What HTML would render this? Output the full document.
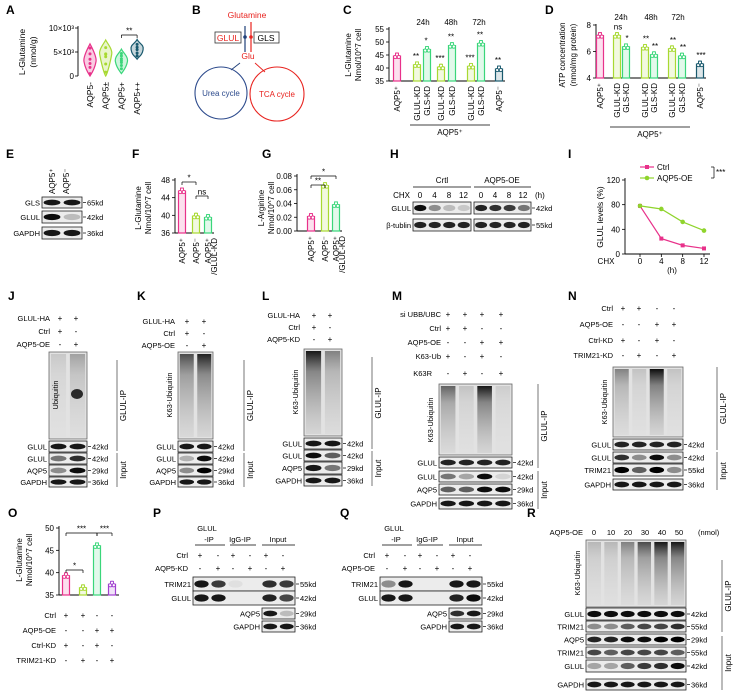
<!DOCTYPE html>
<html><head><meta charset="utf-8">
<style>
html,body{margin:0;padding:0;background:#fff;}
svg{display:block;font-family:"Liberation Sans",Arial,sans-serif;}
</style></head>
<body>
<svg id="fig" width="735" height="694" viewBox="0 0 735 694" xmlns="http://www.w3.org/2000/svg">
<defs>
<linearGradient id="smearG" x1="0" y1="0" x2="0" y2="1">
<stop offset="0" stop-color="#000" stop-opacity="0.95"/>
<stop offset="0.25" stop-color="#333" stop-opacity="0.55"/>
<stop offset="1" stop-color="#888" stop-opacity="0.15"/>
</linearGradient>
</defs>
</svg>
<script>
// ---------- chart data ----------
const aCats=['AQP5-','AQP5±','AQP5+','AQP5++'];
const aMin=[0,0,500,3500];
const aMax=[6700,7500,5600,7600];
const aPeak=[3000,4500,3000,5500];
const aPts=[[500,1800,2600,3500,4600,5800],[800,2500,4000,4500,4600,5900],[1500,2200,2800,3200,3600,4200,4700],[4200,4800,5500,6000,6600]];
const aTicks=[0,5000,10000];
const aTickLabels=['0','5×10³','10×10³'];
const cCats=['AQP5⁺','GLUL-KD','GLS-KD','GLUL-KD','GLS-KD','GLUL-KD','GLS-KD','AQP5⁻'];
const cVals=[44.6,41.2,47.1,40.3,48.6,40.6,49.4,39.6];
const cSig=['','**','*','***','**','***','**','**'];
const cTicks=[35,40,45,50,55];
const dCats=['AQP5⁺','GLUL-KD','GLS-KD','GLUL-KD','GLS-KD','GLUL-KD','GLS-KD','AQP5⁻'];
const dVals=[7.2,7.2,6.35,6.3,5.75,6.2,5.65,5.05];
const dSig=['','ns','*','**','**','**','**','***'];
const dTicks=[4,6,8];
const fCats=['AQP5⁺','AQP5⁻','AQP5⁺'];
const fVals=[45.5,39.8,39.5];
const fTicks=[36,40,44,48];
const gCats=['AQP5⁺','AQP5⁻','AQP5⁺'];
const gVals=[0.021,0.066,0.038];
const gTicks=[0,0.02,0.04,0.06,0.08];
const gTickLabels=['0.00','0.02','0.04','0.06','0.08'];
const iTime=[0,4,8,12];
const iCtrl=[78,25,14,9];
const iOE=[78,73,52,38];
const iTicks=[0,40,80,120];
const oVals=[39.3,36.6,46,37.4];
const oTicks=[35,40,45,50];

// ---------- helpers ----------
const NS='http://www.w3.org/2000/svg';
const svg=document.getElementById('fig');
function mk(tag,attrs,name,inter){
  const el=document.createElementNS(NS,tag);
  for(const k in attrs) el.setAttribute(k,attrs[k]);
  
  
  svg.appendChild(el);
  return el;
}
function T(x,y,s,o){
  o=o||{};
  const at={x:x,y:y,'font-size':o.fs||8,'text-anchor':o.a||'start',fill:o.c||'#000'};
  if(o.b) at['font-weight']='bold';
  if(o.r) at.transform='rotate('+o.r+' '+x+' '+y+')';
  const el=mk('text',at,o.n||'label',false);
  el.textContent=s;
  return el;
}
function L(x1,y1,x2,y2,c,w,n){
  return mk('line',{x1:x1,y1:y1,x2:x2,y2:y2,stroke:c||'#000','stroke-width':w||0.8},n||'line',false);
}
function R(x,y,w,h,f,s,n){
  return mk('rect',{x:x,y:y,width:w,height:h,fill:f||'none',stroke:s||'none','stroke-width':0.8},n||'rect',false);
}
function letter(x,y,s){T(x,y,s,{fs:12,b:true,n:'panel-label-'+s.toLowerCase()});}
function blot(x,y,w,h,ints,name,kd,lab){
  R(x,y,w,h,'#ececec','#222',name+'-blot');
  const k=ints.length;
  for(let i=0;i<k;i++){
    mk('ellipse',{cx:x+w*(i+0.5)/k,cy:y+h/2,rx:w/k*0.42,ry:h*0.26,fill:'#000','fill-opacity':ints[i]},name+'-band',false);
  }
  if(lab) T(x-2,y+h/2+3,lab,{a:'end',fs:7.5,n:name+'-label'});
  if(kd){L(x+w+1,y+h/2,x+w+4,y+h/2,'#000',0.7,'kd-tick');T(x+w+5,y+h/2+3,kd,{fs:7.5,n:name+'-kd'});}
}
function smear(x,y,w,h,ints,name){
  R(x,y,w,h,'#e2e2e2','#666',name+'-blot');
  const k=ints.length;
  for(let i=0;i<k;i++){
    mk('rect',{x:x+w*i/k+w/k*0.1,y:y+2,width:w/k*0.8,height:h-4,fill:'url(#smearG)','fill-opacity':ints[i]},name+'-lane',false);
  }
}
function bar(cx,yTop,yBase,w,col,name){
  mk('rect',{x:cx-w/2,y:yTop,width:w,height:yBase-yTop,fill:col,'fill-opacity':0.15,stroke:col,'stroke-width':1.2},name,false);
  L(cx,yTop-3,cx,yTop+3,col,0.8,name+'-error');
  L(cx-2,yTop-3,cx+2,yTop-3,col,0.8,name+'-error-cap');
  for(let j=-1;j<=1;j++) mk('circle',{cx:cx+j*1.8,cy:yTop+(j===0?-1.5:1),r:1.6,fill:'#fff',stroke:col,'stroke-width':0.9},name+'-point',false);
}
function bracket(x1,x2,y,s){
  L(x1,y+3,x1,y,'#000',0.7,'sig-bracket');L(x1,y,x2,y,'#000',0.7,'sig-bracket');L(x2,y,x2,y+3,'#000',0.7,'sig-bracket');
  T((x1+x2)/2,y-1.5,s,{a:'middle',fs:8,n:'significance'});
}
function signs(xs,y,arr,name){for(let i=0;i<xs.length;i++) T(xs[i],y,arr[i],{a:'middle',fs:8,n:name+'-sign'});}
function sideLine(x,y1,y2,txt){L(x,y1,x,y2,'#555',0.8,'group-line');T(x+9,(y1+y2)/2,txt,{a:'middle',fs:8,r:-90,n:'group-label'});}

// ---------- A ----------
letter(6,14,'A');
const yA=v=>76-v/10000*48;
const xA=i=>90+i*15.7;
const aCol=['#e8318a','#a8d932','#3ad67a','#1a5a6e'];
L(78,26,78,76,'#000',0.9,'a-y-axis');
aTicks.forEach((t,i)=>{L(75,yA(t),78,yA(t),'#000',0.8,'a-tick');T(74,yA(t)+3,aTickLabels[i],{a:'end',fs:8,n:'a-tick-label'});});
T(25,52,'L-Glutamine',{a:'middle',r:-90,fs:8.5,n:'a-y-title'});
T(36,52,'(nmol/g)',{a:'middle',r:-90,fs:8.5,n:'a-y-title'});
aCats.forEach((c,i)=>{
  const cx=xA(i),y0=yA(aMin[i]),y1=yA(aMax[i]),yp=yA(aPeak[i]);
  const d='M'+cx+' '+y1+' C'+(cx+2)+' '+(y1+4)+' '+(cx+7)+' '+(yp-5)+' '+(cx+6)+' '+yp+' C'+(cx+5)+' '+(yp+6)+' '+(cx+2)+' '+(y0-3)+' '+cx+' '+y0+' C'+(cx-2)+' '+(y0-3)+' '+(cx-5)+' '+(yp+6)+' '+(cx-6)+' '+yp+' C'+(cx-7)+' '+(yp-5)+' '+(cx-2)+' '+(y1+4)+' '+cx+' '+y1+'Z';
  mk('path',{d:d,fill:aCol[i],'fill-opacity':0.25,stroke:aCol[i],'stroke-width':1.2},'violin-'+i,false);
  aPts[i].forEach(v=>mk('circle',{cx:cx,cy:yA(v),r:1.5,fill:aCol[i]},'violin-point',false));
  T(cx+3,82,c,{a:'end',r:-90,fs:8.5,n:'a-x-label'});
});
bracket(xA(2),xA(3),35,'**');

// ---------- B ----------
letter(192,14,'B');
T(247,18,'Glutamine',{a:'middle',fs:8.5,c:'#e8231f',n:'glutamine-label'});
R(215,32,26,11,'none','#333','glul-box');T(228,41,'GLUL',{a:'middle',fs:8.5,c:'#e8231f',n:'glul-text'});
R(254,32,25,11,'none','#333','gls-box');T(266,41,'GLS',{a:'middle',fs:8.5,n:'gls-text'});
L(245,26,245,52,'#1f3f78',1.2,'glul-arrow');L(251,22,251,52,'#e8231f',1.2,'gls-arrow');
mk('circle',{cx:245,cy:37,r:1.8,fill:'#1f3f78'},'glul-dot',false);
mk('circle',{cx:251,cy:37,r:1.8,fill:'#e8231f'},'gls-dot',false);
T(248,59,'Glu',{a:'middle',fs:8.5,c:'#e8231f',n:'glu-label'});
L(240,63,231,70,'#1f3f78',0.9,'to-urea');L(255,63,265,72,'#e8231f',0.9,'to-tca');
mk('circle',{cx:221,cy:93,r:26,fill:'none',stroke:'#2c4a8c','stroke-width':1.1},'urea-cycle',false);
mk('circle',{cx:277,cy:94,r:27,fill:'none',stroke:'#e8231f','stroke-width':1.1},'tca-cycle',false);
T(221,96,'Urea cycle',{a:'middle',fs:8,c:'#2c4a8c',n:'urea-label'});
T(277,97,'TCA cycle',{a:'middle',fs:8,c:'#e8231f',n:'tca-label'});

// ---------- C ----------
letter(343,14,'C');
const yC=v=>81-(v-35)/20*52;
const cX=[397,417,427,441,452,471,481,499];
const cCol=['#e8318a','#a8d932','#3ad67a','#a8d932','#3ad67a','#a8d932','#3ad67a','#1a5a6e'];
L(389,27,389,81,'#000',0.9,'c-y-axis');L(389,81,505,81,'#000',0.9,'c-x-axis');
cTicks.forEach(t=>{L(386,yC(t),389,yC(t),'#000',0.8,'c-tick');T(384,yC(t)+3,String(t),{a:'end',fs:8,n:'c-tick-label'});});
T(351,55,'L-Glutamine',{a:'middle',r:-90,fs:8,n:'c-y-title'});
T(361,55,'Nmol/10^7 cell',{a:'middle',r:-90,fs:8,n:'c-y-title'});
cVals.forEach((v,i)=>{bar(cX[i],yC(v),81,7,cCol[i],'c-bar-'+i);T(cX[i]-1,yC(v)-6,cSig[i],{a:'middle',fs:8,n:'c-sig'});T(cX[i]+3,86,cCats[i],{a:'end',r:-90,fs:8,n:'c-x-label'});});
T(423,25,'24h',{a:'middle',fs:8,n:'c-time'});T(451,25,'48h',{a:'middle',fs:8,n:'c-time'});T(479,25,'72h',{a:'middle',fs:8,n:'c-time'});
L(410,125,490,125,'#000',0.8,'c-group-line');T(450,135,'AQP5⁺',{a:'middle',fs:8,n:'c-group-label'});

// ---------- D ----------
letter(545,14,'D');
const yD=v=>78-(v-4)/4*53;
const dX=[600,617,626,645,654,672,682,700];
L(596,24,596,78,'#000',0.9,'d-y-axis');L(596,78,706,78,'#000',0.9,'d-x-axis');
dTicks.forEach(t=>{L(593,yD(t),596,yD(t),'#000',0.8,'d-tick');T(591,yD(t)+3,String(t),{a:'end',fs:8,n:'d-tick-label'});});
T(565,55,'ATP concentration',{a:'middle',r:-90,fs:8,n:'d-y-title'});
T(576,55,'(nmol/mg protein)',{a:'middle',r:-90,fs:8,n:'d-y-title'});
dVals.forEach((v,i)=>{bar(dX[i],yD(v),78,7,cCol[i],'d-bar-'+i);T(dX[i]+1,yD(v)-6,dSig[i],{a:'middle',fs:8,n:'d-sig'});T(dX[i]+3,83,dCats[i],{a:'end',r:-90,fs:8,n:'d-x-label'});});
T(621,20,'24h',{a:'middle',fs:8,n:'d-time'});T(651,20,'48h',{a:'middle',fs:8,n:'d-time'});T(678,20,'72h',{a:'middle',fs:8,n:'d-time'});
L(610,127,690,127,'#000',0.8,'d-group-line');T(650,137,'AQP5⁺',{a:'middle',fs:8,n:'d-group-label'});

// ---------- E ----------
letter(6,158,'E');
T(55,194,'AQP5⁺',{r:-90,fs:8,n:'e-col-label'});T(69,194,'AQP5⁻',{r:-90,fs:8,n:'e-col-label'});
blot(42,197,40,11,[0.9,0.9],'e-gls','65kd','GLS');
blot(42,211,40,12,[0.95,0.2],'e-glul','42kd','GLUL');
blot(42,227,40,12,[0.9,0.9],'e-gapdh','36kd','GAPDH');

// ---------- F ----------
letter(132,158,'F');
const yF=v=>233-(v-36)/12*53;
const fX=[182,196,208];const fCol=['#e8318a','#a8d932','#3ad67a'];
L(175,178,175,233,'#000',0.9,'f-y-axis');L(175,233,214,233,'#000',0.9,'f-x-axis');
fTicks.forEach(t=>{L(172,yF(t),175,yF(t),'#000',0.8,'f-tick');T(170,yF(t)+3,String(t),{a:'end',fs:8,n:'f-tick-label'});});
T(141,208,'L-Glutamine',{a:'middle',r:-90,fs:8,n:'f-y-title'});T(151,208,'Nmol/10^7 cell',{a:'middle',r:-90,fs:8,n:'f-y-title'});
fVals.forEach((v,i)=>{bar(fX[i],yF(v),233,7,fCol[i],'f-bar-'+i);T(fX[i]+3,238,fCats[i],{a:'end',r:-90,fs:8,n:'f-x-label'});});
T(217,238,'/GLUL-KD',{a:'end',r:-90,fs:8,n:'f-x-label'});
bracket(182,196,182,'*');bracket(196,208,196,'ns');

// ---------- G ----------
letter(262,158,'G');
const yG=v=>231-v/0.08*55;
const gX=[311,325,336];
L(297,174,297,231,'#000',0.9,'g-y-axis');L(297,231,342,231,'#000',0.9,'g-x-axis');
gTicks.forEach((t,i)=>{L(294,yG(t),297,yG(t),'#000',0.8,'g-tick');T(292,yG(t)+3,gTickLabels[i],{a:'end',fs:8,n:'g-tick-label'});});
T(264,208,'L-Arginine',{a:'middle',r:-90,fs:8,n:'g-y-title'});T(274,208,'Nmol/10^7 cell',{a:'middle',r:-90,fs:8,n:'g-y-title'});
gVals.forEach((v,i)=>{bar(gX[i],yG(v),231,7,fCol[i],'g-bar-'+i);T(gX[i]+3,236,gCats[i],{a:'end',r:-90,fs:8,n:'g-x-label'});});
T(345,236,'/GLUL-KD',{a:'end',r:-90,fs:8,n:'g-x-label'});
bracket(311,325,185,'**');bracket(311,336,176,'*');

// ---------- H ----------
letter(390,158,'H');
T(442,183,'Crtl',{a:'middle',fs:8,n:'h-ctrl-label'});L(413,187,471,187,'#000',0.8,'h-line');
T(502,183,'AQP5-OE',{a:'middle',fs:8,n:'h-oe-label'});L(474,187,531,187,'#000',0.8,'h-line');
T(410,198,'CHX',{a:'end',fs:8,n:'h-chx'});
[0,4,8,12].forEach((t,i)=>{T(420+i*14.5,198,String(t),{a:'middle',fs:8,n:'h-time'});T(481+i*14,198,String(t),{a:'middle',fs:8,n:'h-time'});});
T(535,198,'(h)',{fs:8,n:'h-unit'});
blot(413,202,58,12,[0.95,0.4,0.2,0.15],'h-glul-ctrl',null,'GLUL');
blot(474,202,57,12,[0.85,0.8,0.75,0.5],'h-glul-oe','42kd',null);
blot(413,219,58,12,[0.85,0.85,0.85,0.85],'h-tub-ctrl',null,'β-tublin');
blot(474,219,57,12,[0.85,0.85,0.85,0.85],'h-tub-oe','55kd',null);

// ---------- I ----------
letter(568,158,'I');
const yI=v=>254-v/120*74;
const xI=t=>640+t/12*64;
L(625,178,625,254,'#000',0.9,'i-y-axis');L(625,254,710,254,'#000',0.9,'i-x-axis');
iTicks.forEach(t=>{L(622,yI(t),625,yI(t),'#000',0.8,'i-tick');T(620,yI(t)+3,String(t),{a:'end',fs:8,n:'i-tick-label'});});
iTime.forEach(t=>{L(xI(t),254,xI(t),257,'#000',0.8,'i-xtick');T(xI(t),264,String(t),{a:'middle',fs:8,n:'i-xtick-label'});});
T(606,264,'CHX',{a:'middle',fs:8,n:'i-chx'});T(672,273,'(h)',{a:'middle',fs:8,n:'i-unit'});
T(603,217,'GLUL levels (%)',{a:'middle',r:-90,fs:8.5,n:'i-y-title'});
mk('polyline',{points:iTime.map((t,i)=>xI(t)+','+yI(iCtrl[i])).join(' '),fill:'none',stroke:'#e8318a','stroke-width':1.2},'i-ctrl-line',false);
mk('polyline',{points:iTime.map((t,i)=>xI(t)+','+yI(iOE[i])).join(' '),fill:'none',stroke:'#8fd42c','stroke-width':1.2},'i-oe-line',false);
iTime.forEach((t,i)=>{mk('rect',{x:xI(t)-2,y:yI(iCtrl[i])-2,width:4,height:4,fill:'#e8318a'},'i-ctrl-point',false);mk('circle',{cx:xI(t),cy:yI(iOE[i]),r:2.3,fill:'#8fd42c'},'i-oe-point',false);});
L(640,167,654,167,'#e8318a',1.2,'legend-ctrl-line');mk('rect',{x:645,y:165,width:4,height:4,fill:'#e8318a'},'legend-ctrl-marker',false);T(657,170,'Ctrl',{fs:8,n:'legend-ctrl'});
L(640,178,654,178,'#8fd42c',1.2,'legend-oe-line');mk('circle',{cx:647,cy:178,r:2.3,fill:'#8fd42c'},'legend-oe-marker',false);T(657,181,'AQP5-OE',{fs:8,n:'legend-oe'});
L(711,167,714,167,'#000',0.7,'i-sig');L(714,167,714,178,'#000',0.7,'i-sig');L(711,178,714,178,'#000',0.7,'i-sig');T(716,175,'***',{fs:8,n:'i-sig-label'});

// ---------- J ----------
letter(8,300,'J');
T(50,321,'GLUL-HA',{a:'end',fs:7.5,n:'j-row'});T(50,334,'Ctrl',{a:'end',fs:7.5,n:'j-row'});T(50,347,'AQP5-OE',{a:'end',fs:7.5,n:'j-row'});
signs([60,76],321,['+','+'],'j');signs([60,76],334,['+','-'],'j');signs([60,76],347,['-','+'],'j');
smear(49,352,38,87,[0.12,0.3],'j-ubiquitin');
mk('ellipse',{cx:77,cy:394,rx:6,ry:5,fill:'#000','fill-opacity':0.8},'j-ub-spot',false);
T(58,395,'Ubiquitin',{a:'middle',r:-90,fs:7.5,n:'j-ub-label'});
blot(49,441,38,11,[0.9,0.9],'j-glul-ip','42kd','GLUL');
blot(49,453,38,11,[0.5,0.8],'j-glul-in','42kd','GLUL');
blot(49,465,38,11,[0.4,0.95],'j-aqp5','29kd','AQP5');
blot(49,477,38,10,[0.9,0.9],'j-gapdh','36kd','GAPDH');
sideLine(117,360,451,'GLUL-IP');sideLine(117,453,487,'Input');

// ---------- K ----------
letter(137,300,'K');
T(175,324,'GLUL-HA',{a:'end',fs:7.5,n:'k-row'});T(175,336,'Ctrl',{a:'end',fs:7.5,n:'k-row'});T(175,348,'AQP5-OE',{a:'end',fs:7.5,n:'k-row'});
signs([187,204],324,['+','+'],'k');signs([187,204],336,['+','-'],'k');signs([187,204],348,['-','+'],'k');
smear(178,352,35,87,[0.7,0.9],'k-k63');
T(172,395,'K63-Ubiquitin',{a:'middle',r:-90,fs:7.5,n:'k-ub-label'});
blot(178,441,35,11,[0.9,0.9],'k-glul-ip','42kd','GLUL');
blot(178,453,35,11,[0.25,0.95],'k-glul-in','42kd','GLUL');
blot(178,465,35,11,[0.4,1],'k-aqp5','29kd','AQP5');
blot(178,477,35,10,[0.9,0.9],'k-gapdh','36kd','GAPDH');
sideLine(244,360,451,'GLUL-IP');sideLine(244,453,487,'Input');

// ---------- L ----------
letter(262,300,'L');
T(300,318,'GLUL-HA',{a:'end',fs:7.5,n:'l-row'});T(300,330,'Ctrl',{a:'end',fs:7.5,n:'l-row'});T(300,342,'AQP5-KD',{a:'end',fs:7.5,n:'l-row'});
signs([314,330],318,['+','+'],'l');signs([314,330],330,['+','-'],'l');signs([314,330],342,['-','+'],'l');
smear(304,349,38,87,[0.95,0.45],'l-k63');
T(298,392,'K63-Ubiquitin',{a:'middle',r:-90,fs:7.5,n:'l-ub-label'});
blot(304,438,38,11,[0.9,0.9],'l-glul-ip','42kd','GLUL');
blot(304,450,38,11,[0.95,0.6],'l-glul-in','42kd','GLUL');
blot(304,462,38,12,[0.9,0.5],'l-aqp5','29kd','AQP5');
blot(304,475,38,11,[0.9,0.9],'l-gapdh','36kd','GAPDH');
sideLine(372,357,449,'GLUL-IP');sideLine(372,451,486,'Input');

// ---------- M ----------
letter(392,300,'M');
T(441,317,'si UBB/UBC',{a:'end',fs:7.5,n:'m-row'});T(441,331,'Ctrl',{a:'end',fs:7.5,n:'m-row'});T(441,345,'AQP5-OE',{a:'end',fs:7.5,n:'m-row'});T(441,359,'K63-Ub',{a:'end',fs:7.5,n:'m-row'});T(432,376,'K63R',{a:'end',fs:7.5,n:'m-row'});
signs([448,465,482,501],317,['+','+','+','+'],'m');signs([448,465,482,501],331,['+','+','-','-'],'m');signs([448,465,482,501],345,['-','-','+','+'],'m');signs([448,465,482,501],359,['+','-','+','-'],'m');signs([448,465,482,501],376,['-','+','-','+'],'m');
smear(439,384,73,71,[0.6,0.15,0.95,0.1],'m-k63');
T(433,420,'K63-Ubiquitin',{a:'middle',r:-90,fs:7.5,n:'m-ub-label'});
blot(439,457,73,11,[0.85,0.85,0.85,0.85],'m-glul-ip','42kd','GLUL');
blot(439,471,73,11,[0.5,0.3,0.95,0.1],'m-glul-in','42kd','GLUL');
blot(439,484,73,11,[0.6,0.6,0.95,0.95],'m-aqp5','29kd','AQP5');
blot(439,498,73,11,[0.9,0.9,0.9,0.9],'m-gapdh','36kd','GAPDH');
sideLine(538,384,468,'GLUL-IP');sideLine(538,471,509,'Input');

// ---------- N ----------
letter(568,300,'N');
T(613,311,'Ctrl',{a:'end',fs:7.5,n:'n-row'});T(613,327,'AQP5-OE',{a:'end',fs:7.5,n:'n-row'});T(613,343,'Ctrl-KD',{a:'end',fs:7.5,n:'n-row'});T(613,358,'TRIM21-KD',{a:'end',fs:7.5,n:'n-row'});
signs([623,639,657,674],311,['+','+','-','-'],'n');signs([623,639,657,674],327,['-','-','+','+'],'n');signs([623,639,657,674],343,['+','-','+','-'],'n');signs([623,639,657,674],358,['-','+','-','+'],'n');
smear(613,367,70,70,[0.45,0.15,1,0.15],'n-k63');
T(607,402,'K63-Ubiquitin',{a:'middle',r:-90,fs:7.5,n:'n-ub-label'});
blot(613,439,70,11,[0.85,0.85,0.85,0.85],'n-glul-ip','42kd','GLUL');
blot(613,452,70,11,[0.8,0.4,0.95,0.4],'n-glul-in','42kd','GLUL');
blot(613,464,70,12,[1,0.6,1,0.4],'n-trim21','55kd','TRIM21');
blot(613,479,70,11,[0.9,0.9,0.9,0.9],'n-gapdh','36kd','GAPDH');
sideLine(717,367,450,'GLUL-IP');sideLine(717,452,490,'Input');

// ---------- O ----------
letter(8,517,'O');
const yO=v=>595-(v-35)/15*67;
const oX=[66,83,97,112];const oCol=['#e8318a','#a8d932','#3ad67a','#a040d0'];
L(59,526,59,595,'#000',0.9,'o-y-axis');L(59,595,119,595,'#000',0.9,'o-x-axis');
oTicks.forEach(t=>{L(56,yO(t),59,yO(t),'#000',0.8,'o-tick');T(54,yO(t)+3,String(t),{a:'end',fs:8,n:'o-tick-label'});});
T(22,560,'L-Glutamine',{a:'middle',r:-90,fs:8,n:'o-y-title'});T(32,560,'Nmol/10^7 cell',{a:'middle',r:-90,fs:8,n:'o-y-title'});
oVals.forEach((v,i)=>bar(oX[i],yO(v),595,7,oCol[i],'o-bar-'+i));
bracket(66,83,570,'*');bracket(66,97,533,'***');bracket(97,112,533,'***');
T(56,618,'Ctrl',{a:'end',fs:7.5,n:'o-row'});T(56,633,'AQP5-OE',{a:'end',fs:7.5,n:'o-row'});T(56,648,'Ctrl-KD',{a:'end',fs:7.5,n:'o-row'});T(56,663,'TRIM21-KD',{a:'end',fs:7.5,n:'o-row'});
signs(oX,618,['+','+','-','-'],'o');signs(oX,633,['-','-','+','+'],'o');signs(oX,648,['+','-','+','-'],'o');signs(oX,663,['-','+','-','+'],'o');

// ---------- P & Q ----------
function coip(ox,lbl,ints,letterS){
  letter(ox-40,517,letterS);
  T(ox+14,531,'GLUL',{a:'middle',fs:7.5,n:'coip-header'});T(ox+16,542,'-IP',{a:'middle',fs:7.5,n:'coip-header'});L(ox+2,545,ox+32,545,'#000',0.7,'header-line');
  T(ox+47,542,'IgG-IP',{a:'middle',fs:7.5,n:'coip-header'});L(ox+37,545,ox+63,545,'#000',0.7,'header-line');
  T(ox+85,542,'Input',{a:'middle',fs:7.5,n:'coip-header'});L(ox+69,545,ox+102,545,'#000',0.7,'header-line');
  const xs=[7,25,40,57,73,90].map(d=>ox+d);
  T(ox-5,558,'Ctrl',{a:'end',fs:7.5,n:'coip-row'});signs(xs,558,['+','-','+','-','+','-'],'coip');
  T(ox-5,571,lbl,{a:'end',fs:7.5,n:'coip-row'});signs(xs,571,['-','+','-','+','-','+'],'coip');
  blot(ox,577,102,14,ints[0],'coip-trim21','55kd','TRIM21');
  blot(ox,591,102,14,ints[1],'coip-glul','42kd','GLUL');
  blot(ox+69,608,33,11,ints[2],'coip-aqp5','29kd','AQP5');
  blot(ox+69,621,33,11,[0.9,0.9],'coip-gapdh','36kd','GAPDH');
}
coip(193,'AQP5-KD',[[0.9,0.75,0.05,0,0.8,0.75],[0.9,0.9,0,0,0.85,0.7],[0.9,0.2]],'P');
coip(380,'AQP5-OE',[[0.4,0.9,0,0,0.9,0.9],[0.9,0.9,0,0,0.85,0.95],[0.8,0.9]],'Q');

// ---------- R ----------
letter(527,517,'R');
T(583,535,'AQP5-OE',{a:'end',fs:7.5,n:'r-row'});
[0,10,20,30,40,50].forEach((d,i)=>T(594+i*17,535,String(d),{a:'middle',fs:7.5,n:'r-dose'}));
T(698,535,'(nmol)',{fs:7.5,n:'r-unit'});
smear(586,540,100,67,[0.2,0.2,0.45,0.7,0.95,0.95],'r-k63');
T(580,573,'K63-Ubiquitin',{a:'middle',r:-90,fs:7.5,n:'r-ub-label'});
blot(586,608,100,12,[0.95,0.95,0.95,0.95,0.95,0.95],'r-glul-ip','42kd','GLUL');
blot(586,621,100,11,[0.4,0.4,0.6,0.7,0.7,0.8],'r-trim21-ip','55kd','TRIM21');
blot(586,634,100,11,[0.85,0.85,0.95,0.95,1,1],'r-aqp5','29kd','AQP5');
blot(586,647,100,11,[0.7,0.6,0.7,0.7,0.7,0.6],'r-trim21','55kd','TRIM21');
blot(586,660,100,12,[0.3,0.3,0.6,0.75,0.8,0.95],'r-glul','42kd','GLUL');
blot(586,679,100,11,[0.9,0.9,0.9,0.9,0.9,0.9],'r-gapdh','36kd','GAPDH');
sideLine(722,560,632,'GLUL-IP');sideLine(722,636,690,'Input');
</script>
</body></html>
